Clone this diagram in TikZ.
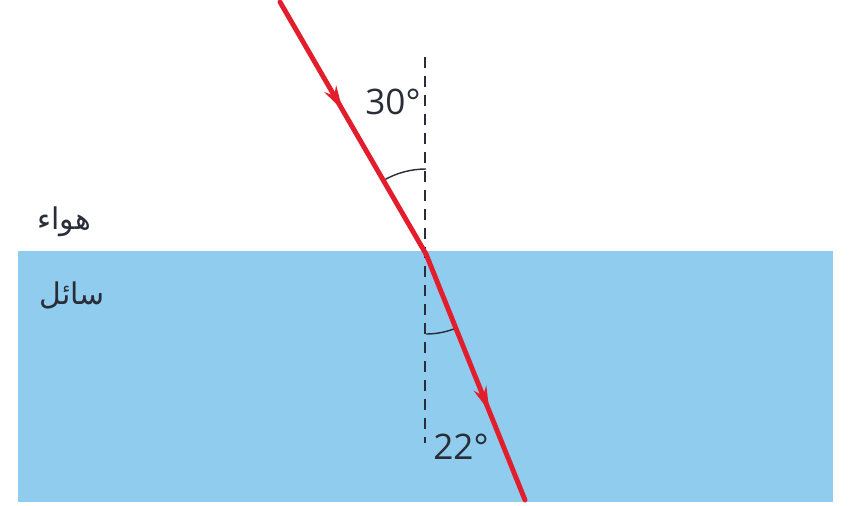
\documentclass[tikz,border=0pt]{standalone}
\usepackage{fontspec}
\setmainfont{Open Sans}
\newfontfamily\arabicfont[Script=Arabic]{DejaVu Sans}
\TeXXeTstate=1
\usetikzlibrary{arrows.meta,decorations.markings}
\definecolor{liquid}{RGB}{143,204,238}
\definecolor{ray}{RGB}{226,30,45}
\definecolor{normalgray}{RGB}{40,45,55}

\tikzset{
  lightray/.style={ray, line width=1.4pt, line cap=round},
  midarrow/.style={postaction={decorate, decoration={markings,
      mark=at position #1 with {\arrow{Stealth[length=7pt,width=3.8pt]}}}}},
  normalline/.style={normalgray, line width=0.8pt, dash pattern=on 3.2pt off 2.2pt},
  anglearc/.style={normalgray, line width=0.4pt},
  anglelabel/.style={text=normalgray, font=\fontsize{10}{12}\selectfont, inner sep=0pt},
  medium/.style={text=normalgray, font=\arabicfont\fontsize{8.5}{10}\selectfont, inner sep=0pt}
}

\begin{document}
\begin{tikzpicture}[x=0.01cm, y=-0.01cm]
  \useasboundingbox (0,0) rectangle (851,506);
  % liquid
  \fill[liquid] (18,251) rectangle (833,502);
  % points on the rays
  \coordinate (hit) at (426,254);
  \coordinate (src) at (280,2);
  \coordinate (out) at (525,500);
  \coordinate (ntop) at (425,57);
  \coordinate (nbot) at (425,443);
  % normal
  \draw[normalline] (ntop) -- (nbot);
  % angles
  \draw[anglearc] (hit) ++(-120:85) arc[start angle=-120, end angle=-90, radius=85];
  \draw[anglearc] (hit) ++(90:80) arc[start angle=90, end angle=68, radius=80];
  % rays
  \draw[lightray, midarrow=0.43] (src) -- (hit);
  \draw[lightray, midarrow=0.64] (hit) -- (out);
  % labels
  \node[anglelabel] (inc) at (393,102) {30°};
  \node[anglelabel] (refr) at (461,447) {22°};
  \node[medium] (air) at (64,222) {\beginR هواء\endR};
  \node[medium] (liq) at (72,295) {\beginR سائل\endR};
\end{tikzpicture}
\end{document}
